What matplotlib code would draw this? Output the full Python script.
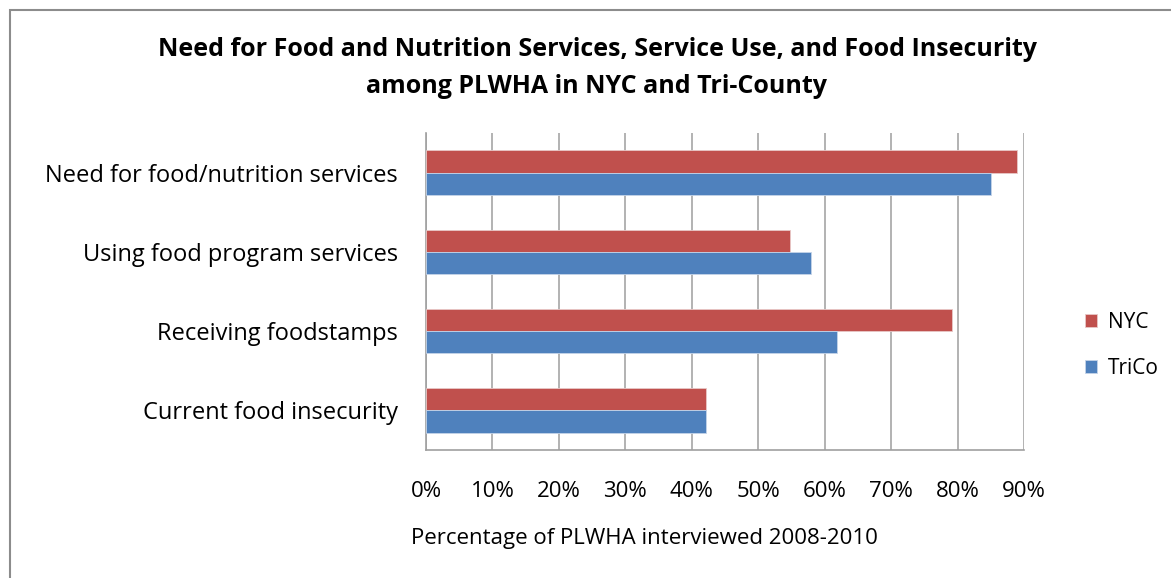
import numpy as np
import matplotlib.pyplot as plt
from matplotlib.patches import Rectangle

categories = ['Need for food/nutrition services', 'Using food program services',
              'Receiving foodstamps', 'Current food insecurity']
nyc = [88.9, 54.8, 79.1, 42.1]
trico = [85.1, 57.9, 61.9, 42.1]
xticks = [0, 10, 20, 30, 40, 50, 60, 70, 80, 90]

plt.rcParams['font.family'] = ['Open Sans', 'DejaVu Sans']

fig = plt.figure(figsize=(11.71, 5.78), dpi=100)
W, H = 1171, 578
ax = fig.add_axes([426 / W, 1 - 450 / H, (1024 - 426) / W, (450 - 133) / H])

# outer chart frame
fig.patches.append(Rectangle((10 / W, -0.1), 1.2, 1 - 10 / H + 0.1, transform=fig.transFigure,
                             fill=False, edgecolor='#8c8c8c', linewidth=1.5))

y = np.arange(len(categories))
h = 0.28
ax.barh(y - h / 2, nyc, height=h, color='#C0504D', edgecolor='#e8c8c7', linewidth=0.6, label='NYC', zorder=3)
ax.barh(y + h / 2, trico, height=h, color='#4F81BD', edgecolor='#c5d4e8', linewidth=0.6, label='TriCo', zorder=3)

ax.set_ylim(3.5, -0.5)
ax.set_xlim(0, 90)
ax.set_yticks(y)
ax.set_yticklabels(categories, fontsize=17)
ax.set_xticks(xticks)
ax.set_xticklabels([f'{t}%' for t in xticks], fontsize=16)
ax.tick_params(axis='y', length=0, pad=20)
ax.tick_params(axis='x', length=0, pad=22)
ax.grid(axis='x', color='#a6a6a6', linewidth=1.2, zorder=0)

for s in ['top', 'right']:
    ax.spines[s].set_visible(False)
for s in ['left', 'bottom']:
    ax.spines[s].set_color('#a0a0a0')
    ax.spines[s].set_linewidth(1.2)

ax.set_xlabel('Percentage of PLWHA interviewed 2008-2010', fontsize=16)
ax.xaxis.set_label_coords(-0.025, -0.245)
ax.xaxis.label.set_horizontalalignment('left')

fig.text(597 / W, 1 - 50 / H, 'Need for Food and Nutrition Services, Service Use, and Food Insecurity',
         ha='center', va='center', fontsize=18, fontweight='bold')
fig.text(597 / W, 1 - 86 / H, 'among PLWHA in NYC and Tri-County',
         ha='center', va='center', fontsize=18, fontweight='bold')

fig.legend(loc='center left', bbox_to_anchor=(1066 / W, 1 - 345 / H), frameon=False,
           fontsize=15, handlelength=0.6, handleheight=0.6, labelspacing=1.2, handletextpad=0.5)

fig.savefig('out.png', dpi=100)
